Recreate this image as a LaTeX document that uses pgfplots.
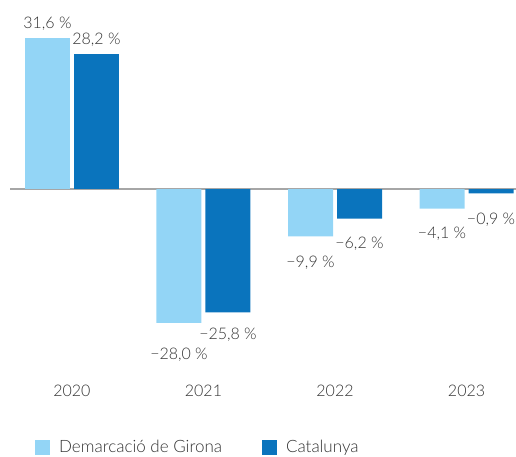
\documentclass[border=0pt]{standalone}
\usepackage{fontspec}
\setmainfont{Lato Light}
\usepackage{pgfplots}
\pgfplotsset{compat=1.18}
\definecolor{lb}{HTML}{93D5F6}
\definecolor{db}{HTML}{0A74BD}
\definecolor{tx}{HTML}{333333}
\newcommand{\neglab}[2]{\rule{0pt}{\dimexpr26pt+#1pt\relax}#2}
\begin{document}
\begin{tikzpicture}
\useasboundingbox (-10pt,-116pt) rectangle (506pt,340pt);
\begin{axis}[
  at={(0pt,0pt)}, anchor=south west,
  width=506pt, height=340pt, scale only axis,
  xmin=-0.471, xmax=3.376, ymin=-31.59, ymax=39.54,
  ybar, bar width=45pt,
  axis line style={draw=none},
  ytick=\empty,
  xtick={0,1,2,3}, xticklabels={2020,2021,2022,2023},
  major tick length=0pt,
  xticklabel style={yshift=-42pt, text=tx, font=\fontsize{16}{18}\selectfont},
  extra y ticks={0}, extra y tick labels={},
  extra y tick style={grid=major, major grid style={draw=black!35, line width=1.3pt}},
  nodes near coords, point meta=explicit symbolic,
  every node near coord/.append style={text=tx, font=\fontsize{16}{18}\selectfont},
  clip=false,
  legend columns=2,
  legend style={at={(0.0494,-0.3147)}, anchor=west, draw=none, inner sep=0pt,
    font=\fontsize{17}{19}\selectfont, text=tx,
    column sep=7pt, /tikz/every even column/.append style={column sep=38pt}},
]
\addplot[fill=lb, draw=none, bar shift=-24.5pt,
  every node near coord/.append style={anchor=south, yshift=4pt},
  legend image code/.code={\fill[lb] (0pt,-7.5pt) rectangle (15pt,7.5pt);}]
  coordinates {(0,31.6)[31,6 \%]};
\addplot[fill=db, draw=none, bar shift=24.5pt,
  every node near coord/.append style={anchor=south, yshift=4pt},
  legend image code/.code={\fill[db] (0pt,-7.5pt) rectangle (15pt,7.5pt);}]
  coordinates {(0,28.2)[28,2 \%]};
\addplot[fill=lb, draw=none, bar shift=-24.5pt, forget plot,
  every node near coord/.append style={anchor=north}]
  coordinates {(1,-28.0)[\neglab{7}{−28,0 \%}] (2,-9.9)[\neglab{2}{−9,9 \%}] (3,-4.1)[\neglab{0}{−4,1 \%}]};
\addplot[fill=db, draw=none, bar shift=24.5pt, forget plot,
  every node near coord/.append style={anchor=north}]
  coordinates {(1,-25.8)[\neglab{-2}{−25,8 \%}] (2,-6.2)[\neglab{0}{−6,2 \%}] (3,-0.9)[\neglab{2}{−0,9 \%}]};
\legend{Demarcació de Girona, Catalunya}
\end{axis}
\end{tikzpicture}
\end{document}
